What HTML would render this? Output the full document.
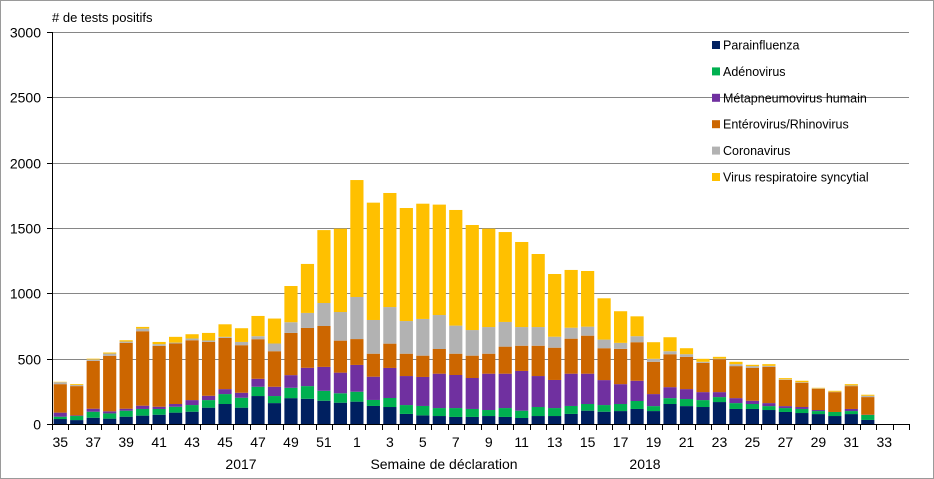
<!DOCTYPE html>
<html><head><meta charset="utf-8"><style>
body{margin:0;background:#fff;}
svg{display:block;font-family:"Liberation Sans",Arial,sans-serif;}
</style></head><body>
<svg id="chart" width="934" height="479">
<rect x="0.5" y="0.5" width="933" height="478" fill="#fff" stroke="#9a9a9a"/>
<text x="52" y="22" font-size="13" fill="#000"># de tests positifs</text>
<g id="grid"></g><g id="bars"></g><g id="axes"></g><g id="legend"></g>
<text x="241" y="469" font-size="14" text-anchor="middle">2017</text>
<text x="444" y="469" font-size="14" text-anchor="middle">Semaine de déclaration</text>
<text x="645" y="469" font-size="14" text-anchor="middle">2018</text>
</svg>
<script>
const weeks=[35,36,37,38,39,40,41,42,43,44,45,46,47,48,49,50,51,52,1,2,3,4,5,6,7,8,9,10,11,12,13,14,15,16,17,18,19,20,21,22,23,24,25,26,27,28,29,30,31,32,33,34];
const parainfluenza=[38,30,48,41,56,64,71,87,94,125,153,125,214,160,198,193,178,163,171,138,130,77,66,61,54,54,61,54,46,61,61,77,102,94,99,115,99,153,137,130,168,115,115,107,92,84,76,61,76,31,0,0];
const adenovirus=[18,31,46,40,46,51,44,45,51,58,76,76,71,54,79,97,76,72,76,46,69,68,72,61,68,61,46,68,56,69,61,61,51,51,54,61,38,45,54,53,38,45,38,30,30,31,23,31,23,38,0,0];
const metapneumovirus=[31,5,23,16,15,25,17,21,38,33,38,38,61,71,97,140,183,158,205,178,230,222,222,263,253,237,278,263,304,237,215,247,232,191,152,155,92,84,76,61,38,38,25,23,15,15,8,0,16,2,0,0];
const enterovirus=[218,224,366,425,504,570,466,463,458,412,392,364,303,272,323,305,313,245,198,176,186,171,163,189,163,171,153,207,193,232,247,268,291,244,270,295,247,252,247,224,252,245,252,278,201,186,163,152,175,135,0,0];
const coronavirus=[15,8,11,17,10,20,13,7,13,11,8,25,23,59,82,115,176,219,322,258,280,250,281,260,215,196,204,189,143,143,84,84,69,66,46,46,23,23,20,8,4,15,13,7,4,4,3,3,5,10,0,0];
const vrs=[3,7,6,8,10,13,17,44,33,58,96,105,155,191,277,375,558,638,895,898,873,865,882,845,885,804,753,688,651,559,480,442,426,316,242,152,127,107,46,23,14,18,10,13,9,11,4,7,10,8,0,0];
const yTicks=[0,500,1000,1500,2000,2500,3000];
const seriesNames=["Parainfluenza","Adénovirus","Métapneumovirus humain","Entérovirus/Rhinovirus","Coronavirus","Virus respiratoire syncytial"];
const seriesColors=["#002060","#00b050","#7030a0","#cc6600","#b2b2b2","#ffc000"];
const seriesKeys=["parainfluenza","adenovirus","metapneumovirus","enterovirus","coronavirus","vrs"];
const series=[parainfluenza,adenovirus,metapneumovirus,enterovirus,coronavirus,vrs];
const NS="http://www.w3.org/2000/svg";
const X0=52,X1=909,Y0=424,Y1=32,YMAX=3000;
const slot=(X1-X0)/weeks.length;
const xPos=i=>X0+slot*i;
const yPos=v=>Y0-(v/YMAX)*(Y0-Y1);
function mk(tag,attrs,parent){const e=document.createElementNS(NS,tag);for(const k in attrs)e.setAttribute(k,attrs[k]);parent.appendChild(e);return e;}
const grid=document.getElementById('grid'),bars=document.getElementById('bars'),axes=document.getElementById('axes'),legend=document.getElementById('legend');
yTicks.forEach(t=>{
  const y=Math.round(yPos(t))+0.5;
  if(t>0){const l=mk('line',{x1:X0,x2:X1,y1:y,y2:y,stroke:'#868686','stroke-width':1},grid);
    
    }
  const tk=mk('line',{x1:X0-5,x2:X0,y1:y,y2:y,stroke:'#000'},axes);
  
  
  const tx=mk('text',{x:X0-11,y:y+5,'font-size':14,'text-anchor':'end'},axes);
  tx.textContent=t;
  
  
});
const bw=slot*0.8;
weeks.forEach((w,i)=>{
  let cum=0;
  series.forEach((s,k)=>{
    const v=s[i];if(!v)return;
    const y1=yPos(cum+v),y0=yPos(cum);cum+=v;
    const r=mk('rect',{x:xPos(i)+(slot-bw)/2,y:y1,width:bw,height:y0-y1,fill:seriesColors[k]},bars);
    
    
  });
});
const ax=mk('line',{x1:X0,x2:X1,y1:Y0+0.5,y2:Y0+0.5,stroke:'#000'},axes);


const ay=mk('line',{x1:X0+0.5,x2:X0+0.5,y1:Y1,y2:Y0,stroke:'#000'},axes);


for(let i=0;i<=weeks.length;i++){
  const x=Math.round(xPos(i))+0.5;
  const t=mk('line',{x1:x,x2:x,y1:Y0,y2:Y0+6,stroke:'#000'},axes);
  
  
}
weeks.forEach((w,i)=>{
  if(i%2!==0)return;
  const t=mk('text',{x:xPos(i)+slot/2,y:447,'font-size':14,'text-anchor':'middle'},axes);
  t.textContent=w;
  
  
});
seriesNames.forEach((n,k)=>{
  const y=45+k*26.4;
  const g=mk('g',{},legend);
  
  
  mk('rect',{x:712,y:y-4,width:8,height:8,fill:seriesColors[k]},g);
  const t=mk('text',{x:723,y:y+4.5,'font-size':12.5},g);
  t.textContent=n;
});
</script>
</body></html>
